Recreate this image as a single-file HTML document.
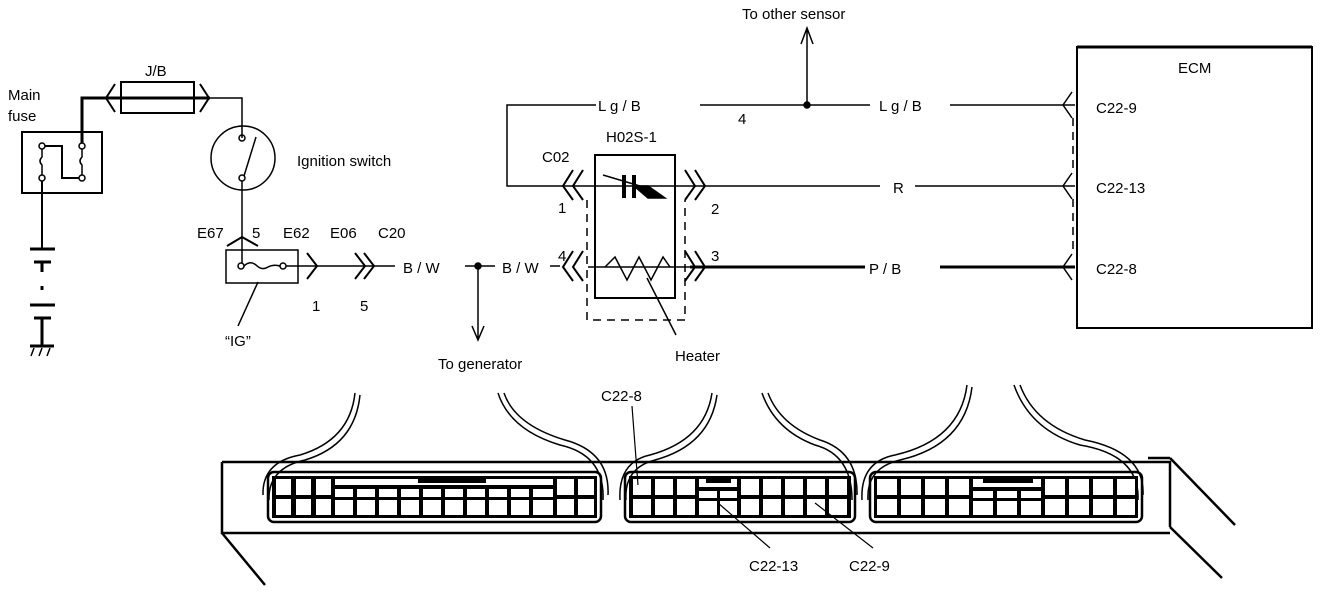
<!DOCTYPE html>
<html><head><meta charset="utf-8"><style>
html,body{margin:0;padding:0;background:#fff;}
svg{display:block;}
text{font-family:"Liberation Sans",Arial,sans-serif;font-size:15px;fill:#000;}
</style></head><body>
<svg width="1328" height="594" viewBox="0 0 1328 594" xmlns="http://www.w3.org/2000/svg">
<g stroke="#000" fill="none" stroke-width="1.5">
<rect x="22" y="132" width="80" height="61" stroke-width="2"/>
<circle cx="42" cy="146" r="3"/><circle cx="42" cy="178" r="3"/>
<circle cx="82" cy="146" r="3"/><circle cx="82" cy="178" r="3"/>
<path d="M42 149 v8 q-4 4 0 8 v10 M82 149 v8 q-4 4 0 8 v10"/>
<path d="M45 146 H62 V178 H79" stroke-width="2"/>
<path d="M42 181 V248" stroke-width="2"/>
<path d="M30 249 H55 M34 262 H51 M42 262 V272 M42 286 V290 M30 305 H55 M34 318 H51 M42 318 V345" stroke-width="3"/>
<path d="M30 346 H54" stroke-width="3"/>
<path d="M34 348 l-3 8 M42 348 l-3 8 M50 348 l-3 8"/>
<path d="M82 143 V98 H210" stroke-width="3"/>
<path d="M210 98 H242 V138"/>
<rect x="121" y="82" width="73" height="31" stroke-width="2"/>
<path d="M115 84 L106 98 L115 112 M200 84 L209 98 L200 112" stroke-width="2"/>
<circle cx="243" cy="158" r="32"/>
<circle cx="242" cy="138" r="3"/><circle cx="242" cy="178" r="3"/>
<path d="M244 176 L256 137"/>
<path d="M242 181 V263"/>
<path d="M227 246 L242 237 L258 246" stroke-width="2"/>
<rect x="226" y="250" width="72" height="33" stroke-width="1.5"/>
<circle cx="241" cy="266" r="3"/><circle cx="283" cy="266" r="3"/>
<path d="M244 266 q6 -6 12 -1 q6 6 12 2 q6 -3 12 -1"/>
<path d="M258 282 L238 326"/>
<path d="M286 266 H395 M465 266 H495 M550 266 H560"/>
<path d="M307 253 L317 266 L307 279" stroke-width="2"/>
<path d="M355 253 L365 266 L355 279 M364 253 L374 266 L364 279" stroke-width="2"/>
<path d="M478 266 V338 M472 326 L478 340 L484 326"/>
<path d="M596 105 H507 V186 H880 M915 186 H1075"/>
<path d="M700 105 H870 M950 105 H1075"/>
<path d="M807 105 V30 M801 44 L807 28 L813 44" stroke-width="1.5"/>
<path d="M690 267 H865 M940 267 H1075" stroke-width="3"/>
<path d="M588 267 H690"/>
<path d="M573 170 L563 186 L573 200 M583 170 L573 186 L583 200" stroke-width="2"/>
<path d="M573 251 L563 267 L573 281 M583 251 L573 267 L583 281" stroke-width="2"/>
<path d="M685 170 L695 186 L685 200 M695 170 L705 186 L695 200" stroke-width="2"/>
<path d="M685 251 L695 267 L685 281 M695 251 L705 267 L695 281" stroke-width="2"/>
<path d="M587 200 V320 H685 V200" stroke-dasharray="8,6"/>
<rect x="595" y="155" width="80" height="143" stroke-width="2"/>
<path d="M603 175 L640 186" stroke-width="1.5"/>
<path d="M624 175 V198 M634 175 V198" stroke-width="4"/>
<path d="M634 186 L648 186 L665 198 L648 198 Z" fill="#000"/>
<path d="M605 267 L615 257 L627 280 L639 257 L651 280 L663 257 L670 267"/>
<path d="M647 278 L676 335"/>
<rect x="1077" y="47" width="235" height="281" stroke-width="2"/>
<path d="M1077 47 H1312" stroke-width="3"/>
<path d="M1072 92 L1063 105 L1072 118 M1072 173 L1063 186 L1072 199 M1072 254 L1063 267 L1072 280" stroke-width="1.5"/>
<path d="M1073 118 V173 M1073 199 V254" stroke-dasharray="8,6" stroke-width="1.5"/>
<circle cx="478" cy="266" r="3" fill="#000"/>
<circle cx="807" cy="105" r="3" fill="#000"/>
</g>
<g stroke="#000" fill="none" stroke-width="2.5">
<path d="M222 462 H1170 V527 M222 462 V533 H1170"/>
<path d="M222 533 L265 585 M1170 458 L1235 525 M1170 527 L1222 578"/>
<path d="M1170 458 H1148"/>
<rect x="268" y="472" width="333" height="50" rx="6" fill="#fff"/>
<path d="M263 495 Q262 462 300 455 Q350 440 355 393 M269 500 Q268 468 305 460 Q355 445 360 395" stroke-width="1.5"/>
<path d="M498 393 Q510 430 560 445 Q605 455 603 500 M504 393 Q515 425 565 440 Q610 452 608 495" stroke-width="1.5"/>
<rect x="625" y="472" width="230" height="50" rx="6" fill="#fff"/>
<path d="M620 500 Q618 462 650 455 Q705 440 712 393 M626 500 Q624 468 655 460 Q710 445 717 395" stroke-width="1.5"/>
<path d="M762 393 Q775 430 815 445 Q852 455 852 500 M768 393 Q780 425 820 440 Q858 452 857 495" stroke-width="1.5"/>
<rect x="870" y="472" width="272" height="50" rx="6" fill="#fff"/>
<path d="M862 500 Q860 462 895 455 Q960 440 967 385 M868 500 Q866 468 900 460 Q965 445 972 387" stroke-width="1.5"/>
<path d="M1014 385 Q1030 430 1080 445 Q1140 455 1138 500 M1020 385 Q1035 425 1085 440 Q1145 452 1143 495" stroke-width="1.5"/>
</g>
<rect x="272" y="476" width="325" height="42" fill="#000"/>
<g fill="#fff">
<rect x="276" y="479" width="15" height="16"/><rect x="296" y="479" width="15" height="16"/><rect x="316" y="479" width="15" height="16"/>
<rect x="276" y="499" width="15" height="16"/><rect x="296" y="499" width="15" height="16"/><rect x="316" y="499" width="15" height="16"/>
<rect x="335" y="479" width="218" height="6"/>
<rect x="335" y="489" width="18" height="8"/><rect x="357" y="489" width="18" height="8"/><rect x="379" y="489" width="18" height="8"/><rect x="401" y="489" width="18" height="8"/><rect x="423" y="489" width="18" height="8"/><rect x="445" y="489" width="18" height="8"/><rect x="467" y="489" width="18" height="8"/><rect x="489" y="489" width="18" height="8"/><rect x="511" y="489" width="18" height="8"/><rect x="533" y="489" width="20" height="8"/>
<rect x="335" y="500" width="18" height="15"/><rect x="357" y="500" width="18" height="15"/><rect x="379" y="500" width="18" height="15"/><rect x="401" y="500" width="18" height="15"/><rect x="423" y="500" width="18" height="15"/><rect x="445" y="500" width="18" height="15"/><rect x="467" y="500" width="18" height="15"/><rect x="489" y="500" width="18" height="15"/><rect x="511" y="500" width="18" height="15"/><rect x="533" y="500" width="20" height="15"/>
<rect x="557" y="479" width="17" height="16"/><rect x="578" y="479" width="16" height="16"/><rect x="557" y="499" width="17" height="16"/><rect x="578" y="499" width="16" height="16"/>
</g>
<rect x="629" y="476" width="222" height="42" fill="#000"/>
<g fill="#fff">
<rect x="633" y="479" width="18" height="16"/><rect x="655" y="479" width="18" height="16"/><rect x="677" y="479" width="18" height="16"/>
<rect x="633" y="499" width="18" height="16"/><rect x="655" y="499" width="18" height="16"/><rect x="677" y="499" width="18" height="16"/>
<rect x="699" y="479" width="38" height="8"/><rect x="699" y="491" width="18" height="7"/><rect x="720" y="491" width="17" height="7"/>
<rect x="699" y="501" width="18" height="14"/><rect x="720" y="501" width="17" height="14"/>
<rect x="741" y="479" width="18" height="16"/><rect x="763" y="479" width="18" height="16"/><rect x="785" y="479" width="18" height="16"/><rect x="807" y="479" width="18" height="16"/><rect x="829" y="479" width="18" height="16"/>
<rect x="741" y="499" width="18" height="16"/><rect x="763" y="499" width="18" height="16"/><rect x="785" y="499" width="18" height="16"/><rect x="807" y="499" width="18" height="16"/><rect x="829" y="499" width="18" height="16"/>
</g>
<rect x="706" y="477" width="25" height="6" fill="#000"/>
<rect x="874" y="476" width="264" height="42" fill="#000"/>
<g fill="#fff">
<rect x="877" y="479" width="20" height="16"/><rect x="901" y="479" width="20" height="16"/><rect x="925" y="479" width="20" height="16"/><rect x="949" y="479" width="20" height="16"/>
<rect x="877" y="499" width="20" height="16"/><rect x="901" y="499" width="20" height="16"/><rect x="925" y="499" width="20" height="16"/><rect x="949" y="499" width="20" height="16"/>
<rect x="973" y="479" width="68" height="8"/>
<rect x="973" y="491" width="20" height="7"/><rect x="997" y="491" width="20" height="7"/><rect x="1021" y="491" width="20" height="7"/>
<rect x="973" y="501" width="20" height="14"/><rect x="997" y="501" width="20" height="14"/><rect x="1021" y="501" width="20" height="14"/>
<rect x="1045" y="479" width="20" height="16"/><rect x="1069" y="479" width="20" height="16"/><rect x="1093" y="479" width="20" height="16"/><rect x="1117" y="479" width="18" height="16"/>
<rect x="1045" y="499" width="20" height="16"/><rect x="1069" y="499" width="20" height="16"/><rect x="1093" y="499" width="20" height="16"/><rect x="1117" y="499" width="18" height="16"/>
</g>
<rect x="983" y="477" width="50" height="6" fill="#000"/>
<rect x="418" y="477" width="68" height="6" fill="#000"/>
<g stroke="#000" stroke-width="1.2" fill="none">
<path d="M632 406 L638 485"/>
<path d="M718 503 L770 548"/>
<path d="M815 503 L873 548"/>
</g>
<text x="8" y="100">Main</text>
<text x="8" y="121">fuse</text>
<text x="145" y="76">J/B</text>
<text x="297" y="166">Ignition switch</text>
<text x="197" y="238">E67</text>
<text x="252" y="238">5</text>
<text x="283" y="238">E62</text>
<text x="330" y="238">E06</text>
<text x="378" y="238">C20</text>
<text x="312" y="311">1</text>
<text x="360" y="311">5</text>
<text x="225" y="346">“IG”</text>
<text x="403" y="273">B / W</text>
<text x="502" y="273">B / W</text>
<text x="438" y="369">To generator</text>
<text x="742" y="19">To other sensor</text>
<text x="598" y="111">L g / B</text>
<text x="738" y="124">4</text>
<text x="879" y="111">L g / B</text>
<text x="542" y="162">C02</text>
<text x="606" y="142">H02S-1</text>
<text x="558" y="213">1</text>
<text x="558" y="261">4</text>
<text x="711" y="214">2</text>
<text x="711" y="261">3</text>
<text x="893" y="193">R</text>
<text x="869" y="274">P / B</text>
<text x="675" y="361">Heater</text>
<text x="1178" y="73">ECM</text>
<text x="1096" y="113">C22-9</text>
<text x="1096" y="193">C22-13</text>
<text x="1096" y="274">C22-8</text>
<text x="601" y="401">C22-8</text>
<text x="749" y="571">C22-13</text>
<text x="849" y="571">C22-9</text>
</svg>
</body></html>
